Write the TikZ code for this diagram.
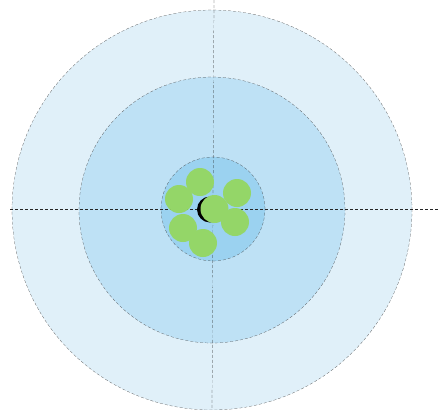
\documentclass[tikz,border=0pt]{standalone}
\usepackage{tikz}
\usetikzlibrary{positioning}

\definecolor{outerblue}{RGB}{224,240,249}
\definecolor{midblue}{RGB}{190,225,245}
\definecolor{innerblue}{RGB}{155,210,240}
\definecolor{wiregreen}{RGB}{148,214,104}

\begin{document}
\begin{tikzpicture}[x=1pt, y=-1pt,
    ring/.style={circle, draw=black!75, densely dashed, very thin, inner sep=0pt},
    wire/.style={circle, fill=wiregreen, inner sep=0pt, minimum size=28pt},
    axis/.style={densely dashed, very thin, black!85}
]
\useasboundingbox (0,0) rectangle (440,410);
\node[ring, fill=outerblue, minimum size=400pt] (outer) at (212,210) {};
\node[ring, fill=midblue, minimum size=266pt] (middle) at (212,210) {};
\node[ring, fill=innerblue, minimum size=104pt] (inner) at (213,209) {};
% cross lines
\coordinate (west) at (10,209);
\coordinate (east) at (440,209);
\coordinate (north) at (214,0);
\coordinate (south) at (212,410);
\draw[axis] (west) -- (east);
\draw[axis] (north) -- (south);
% strands
\node[circle, fill=black, inner sep=0pt, minimum size=26pt] (gap) at (210,209.5) {};
\node[wire] (core) at (214.5,209) {};
\node[wire] (w1) at (200,182) {};
\node[wire] (w2) at (179,199) {};
\node[wire] (w3) at (237,193) {};
\node[wire] (w4) at (235,222) {};
\node[wire] (w5) at (183,228) {};
\node[wire] (w6) at (203,243) {};
\end{tikzpicture}
\end{document}
